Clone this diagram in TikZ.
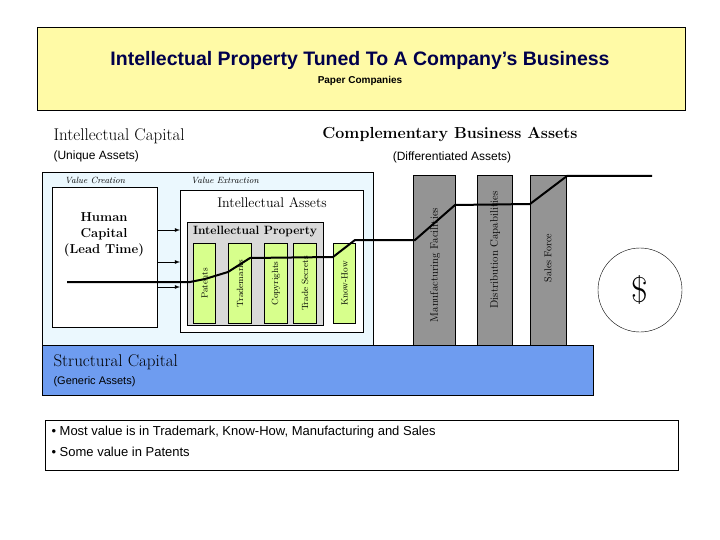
\documentclass[tikz,border=0pt]{standalone}
\usepackage{fontspec}
\newfontfamily\hv{Liberation Sans}
\definecolor{scblue}{RGB}{110,156,240}
\begin{document}
\begin{tikzpicture}[x=1pt,y=-1pt,
  grn/.style={draw=black,line width=1pt,fill=green!35!yellow!45},
  gry/.style={draw=black,line width=1.3pt,fill=black!42},
  vt/.style={rotate=90,font=\fontsize{9}{10}\selectfont},
  thick line/.style={line width=2pt},
  arr/.style={-latex,line width=0.8pt}]
\useasboundingbox (0,0) rectangle (720,540);
\node[draw,line width=0.8pt,fill=yellow!35,minimum width=648pt,minimum height=83pt,anchor=north west] (top) at (37,27) {};
\node[font=\hv\bfseries\fontsize{19.5}{22}\selectfont,text=blue!30!black] (title) at (360,60) {Intellectual Property Tuned To A Company’s Business};
\node[font=\hv\bfseries\fontsize{10}{12}\selectfont] (sub) at (360,81) {Paper Companies};
\node[anchor=west,font=\fontsize{17}{19}\selectfont] (ic) at (50,136) {Intellectual Capital};
\node[anchor=west,font=\hv\fontsize{12}{14}\selectfont] (ua) at (50,156) {(Unique Assets)};
\node[font=\fontsize{16}{18}\selectfont\bfseries] (cba) at (450,135) {Complementary Business Assets};
\node[font=\hv\fontsize{12}{14}\selectfont] (da) at (452,157) {(Differentiated Assets)};
\node[draw,fill=cyan!8,minimum width=331pt,minimum height=173pt,anchor=north west] (panel) at (42,172) {};
\node[font=\itshape\fontsize{9}{10}\selectfont] (vc) at (95,180) {Value Creation};
\node[font=\itshape\fontsize{9}{10}\selectfont] (ve) at (225,180) {Value Extraction};
\node[draw,fill=white,minimum width=105pt,minimum height=140pt,anchor=north west] (hc) at (52,187) {};
\node[align=center,font=\bfseries\fontsize{13}{16}\selectfont] (hct) at (104,235) {Human\\Capital\\(Lead Time)};
\node[draw,fill=white,minimum width=183pt,minimum height=142pt,anchor=north west] (ia) at (180,190) {};
\node[font=\fontsize{14}{16}\selectfont] (iat) at (272,203) {Intellectual Assets};
\node[draw,fill=black!15,minimum width=136pt,minimum height=103pt,anchor=north west] (ip) at (187,222) {};
\node[font=\bfseries\fontsize{12}{14}\selectfont] (ipt) at (255,232) {Intellectual Property};
\foreach \n/\a/\b/\t in {pa/193/215/Patents,tm/228/251/Trademarks,cr/264/287/Copyrights,ts/293/316/Trade Secrets,kh/333/355/Know-How}{
  \node[grn,minimum width=\b-\a,minimum height=80pt,anchor=north west,inner sep=0pt] (\n) at (\a,243) {};
  \node[vt] (\n t) at (\n) {\t};
}
\foreach \n/\a/\b/\t in {mf/413/455/Manufacturing Facilities,dc/477/512/Distribution Capabilities,sf/530/566/Sales Force}{
  \node[gry,minimum width=\b-\a,minimum height=170pt,anchor=north west,inner sep=0pt] (\n) at (\a,175) {};
}
\node[vt,font=\fontsize{11}{12}\selectfont] (mft) at (435,265) {Manufacturing Facilities};
\node[vt,font=\fontsize{11}{12}\selectfont] (dct) at (495,250) {Distribution Capabilities};
\node[vt,font=\fontsize{10}{12}\selectfont] (sft) at (548,258) {Sales Force};
\node[draw,fill=scblue,line width=1.3pt,minimum width=551pt,minimum height=50pt,anchor=north west] (sc) at (42,345) {};
\node[anchor=west,font=\fontsize{17}{19}\selectfont] (sct) at (50,362) {Structural Capital};
\node[anchor=west,font=\hv\fontsize{11}{13}\selectfont] (ga) at (50,382) {(Generic Assets)};
\node[draw,circle,minimum size=84pt] (dol) at (640,290) {\fontsize{36}{40}\selectfont\$};
\node[draw,minimum width=633pt,minimum height=50pt,anchor=north west] (bb) at (45,420) {};
\node[anchor=north west,align=left,font=\hv\fontsize{13}{21}\selectfont] (bt) at (48,423) {• Most value is in Trademark, Know-How, Manufacturing and Sales\\• Some value in Patents};
\coordinate (s) at (67,282);
\coordinate (e) at (652,176);
\draw[thick line] (s) -- (190,282) -- (205,279) -- (228,272) -- (250,258) -- (333,257) -- (355,240) -- (415,240) -- (455,205) -- (530,204) -- (567,176) -- (e);
\foreach \y in {230,262,287}{\coordinate (a\y) at (158,\y); \draw[arr] (a\y) -- (a\y -| ia.west);}
\end{tikzpicture}
\end{document}
